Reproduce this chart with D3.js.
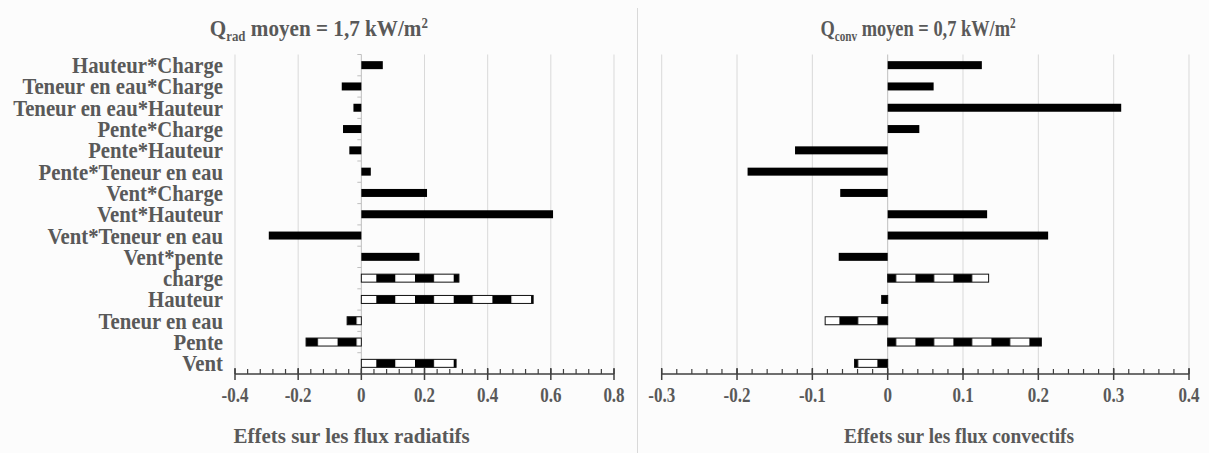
<!DOCTYPE html>
<html>
<head>
<meta charset="utf-8">
<script src="https://cdn.jsdelivr.net/npm/d3@7"></script>
<style>
  html, body { margin: 0; padding: 0; background: #fcfcfc; }
  svg { display: block; }
  text { font-family: "Liberation Serif", "Times New Roman", serif; font-weight: bold; fill: #595959; }
</style>
</head>
<body>
<svg id="chart" width="1209" height="453"></svg>
<script>
// ---------- data ----------
const categories = [
  "Hauteur*Charge", "Teneur en eau*Charge", "Teneur en eau*Hauteur", "Pente*Charge",
  "Pente*Hauteur", "Pente*Teneur en eau", "Vent*Charge", "Vent*Hauteur",
  "Vent*Teneur en eau", "Vent*pente", "charge", "Hauteur", "Teneur en eau", "Pente", "Vent"
];
const mainEffects = ["charge", "Hauteur", "Teneur en eau", "Pente", "Vent"];
const radValues = [0.068, -0.062, -0.025, -0.058, -0.038, 0.030, 0.208, 0.607, -0.293, 0.184, 0.309, 0.544, -0.045, -0.175, 0.300];
const convValues = [0.125, 0.061, 0.310, 0.042, -0.123, -0.186, -0.063, 0.132, 0.213, -0.065, 0.134, -0.008, -0.083, 0.204, -0.044];
const radTicks = [-0.4, -0.2, 0, 0.2, 0.4, 0.6, 0.8];
const radTickLabels = ["-0.4", "-0.2", "0", "0.2", "0.4", "0.6", "0.8"];
const convTicks = [-0.3, -0.2, -0.1, 0, 0.1, 0.2, 0.3, 0.4];
const convTickLabels = ["-0.3", "-0.2", "-0.1", "0", "0.1", "0.2", "0.3", "0.4"];
const radTitle = { main: "Q", sub: "rad", rest: " moyen = 1,7 kW/m", sup: "2" };
const convTitle = { main: "Q", sub: "conv", rest: " moyen = 0,7 kW/m", sup: "2" };
const radAxisTitle = "Effets sur les flux radiatifs";
const convAxisTitle = "Effets sur les flux convectifs";

// ---------- layout ----------
const svg = d3.select("#chart");
const W = 1209, H = 453;
const plotTop = 54.5, axisY = 374;

svg.append("rect").attr("width", W).attr("height", H).attr("fill", "#fcfcfc");
// divider between both images
svg.append("line").attr("x1", 637.5).attr("x2", 637.5).attr("y1", 8).attr("y2", H)
  .attr("stroke", "#d9d9d9").attr("stroke-width", 1);

const y = d3.scaleBand().domain(categories).range([plotTop, axisY])
  .paddingInner(0.625).paddingOuter(0.3125);

const defs = svg.append("defs");
function makePattern(id, period, offset, blackW) {
  const p = defs.append("pattern").attr("id", id).attr("patternUnits", "userSpaceOnUse")
    .attr("x", offset).attr("y", 0).attr("width", period).attr("height", H);
  p.append("rect").attr("width", period).attr("height", H).attr("fill", "#ffffff");
  p.append("rect").attr("width", blackW).attr("height", H).attr("fill", "#000000");
}
makePattern("patL", 38.7, 28.0, 19.0);
makePattern("patR", 38.0, 3.4, 18.8);

function stext(g, x, yy, str, size, sx, anchor) {
  return g.append("text")
    .attr("transform", `translate(${x},${yy}) scale(${sx},1)`)
    .attr("text-anchor", anchor)
    .style("font-size", size + "px")
    .text(str);
}

function panel(opts) {
  const g = svg.append("g");
  const x = d3.scaleLinear().domain(opts.domain).range(opts.range);

  // gridlines
  g.selectAll(".grid").data(opts.ticks.filter(t => t !== 0)).join("line")
    .attr("x1", d => x(d)).attr("x2", d => x(d))
    .attr("y1", plotTop).attr("y2", axisY)
    .attr("stroke", "#d9d9d9").attr("stroke-width", 1);

  // category (zero) axis
  g.append("line").attr("x1", x(0)).attr("x2", x(0)).attr("y1", plotTop).attr("y2", axisY)
    .attr("stroke", "#bfbfbf").attr("stroke-width", 1);
  if (opts.catTicks) {
    const bounds = categories.map(c => y(c) - y.step() * y.paddingInner() / 2);
    g.selectAll(".ctick").data(bounds).join("line")
      .attr("x1", x(0) - 4).attr("x2", x(0))
      .attr("y1", d => d).attr("y2", d => d)
      .attr("stroke", "#bfbfbf").attr("stroke-width", 1);
  }

  // bars
  const data = categories.map((c, i) => ({ c, v: opts.values[i], main: mainEffects.includes(c) }));
  g.selectAll(".bar").data(data).join("rect")
    .attr("x", d => x(Math.min(0, d.v)))
    .attr("width", d => Math.abs(x(d.v) - x(0)))
    .attr("y", d => y(d.c))
    .attr("height", y.bandwidth())
    .attr("fill", d => d.main ? `url(#${opts.pattern})` : "#000")
    .attr("stroke", d => d.main ? "#111" : "none")
    .attr("stroke-width", 1);

  // x axis line
  g.append("line").attr("x1", x(opts.domain[0])).attr("x2", x(opts.domain[1]))
    .attr("y1", axisY).attr("y2", axisY).attr("stroke", "#404040").attr("stroke-width", 1.5);
  // minor ticks
  const minor = d3.range(0, opts.nMinor + 1).map(i => opts.domain[0] + i * opts.minorStep);
  g.selectAll(".minor").data(minor).join("line")
    .attr("x1", d => x(d)).attr("x2", d => x(d))
    .attr("y1", axisY - 5).attr("y2", axisY)
    .attr("stroke", "#404040").attr("stroke-width", 1.2);
  // major ticks
  g.selectAll(".major").data(opts.ticks).join("line")
    .attr("x1", d => x(d)).attr("x2", d => x(d))
    .attr("y1", axisY - 6).attr("y2", axisY + 6)
    .attr("stroke", "#404040").attr("stroke-width", 1.5);
  // tick labels
  opts.ticks.forEach((t, i) => stext(g, x(t), 401.5, opts.tickLabels[i], 20, 0.85, "middle"));

  // axis title
  stext(g, opts.axisTitleX, 442.5, opts.axisTitle, 20, opts.axisTitleSx, "middle");

  // chart title
  const tt = g.append("text")
    .attr("transform", `translate(${opts.titleX},36) scale(${opts.titleSx},1)`)
    .attr("text-anchor", "middle").style("font-size", "23px");
  tt.append("tspan").text(opts.title.main);
  tt.append("tspan").attr("dy", 5).style("font-size", "14px").text(opts.title.sub);
  tt.append("tspan").attr("dy", -5).text(opts.title.rest);
  tt.append("tspan").attr("dy", -8).style("font-size", "14px").text(opts.title.sup);

  return x;
}

panel({
  domain: [-0.4, 0.8], range: [235, 614], ticks: radTicks, tickLabels: radTickLabels,
  values: radValues, pattern: "patL", nMinor: 30, minorStep: 0.04, catTicks: true,
  axisTitle: radAxisTitle, axisTitleX: 351.6, axisTitleSx: 1.05, title: radTitle, titleX: 318.8, titleSx: 0.92
});
panel({
  domain: [-0.3, 0.4], range: [661.7, 1189], ticks: convTicks, tickLabels: convTickLabels,
  values: convValues, pattern: "patR", nMinor: 35, minorStep: 0.02, catTicks: false,
  axisTitle: convAxisTitle, axisTitleX: 959, axisTitleSx: 0.97, title: convTitle, titleX: 918, titleSx: 0.8
});

// category labels
const labG = svg.append("g");
categories.forEach(c => stext(labG, 223, y(c) + y.bandwidth() / 2 + 8, c, 24, 0.865, "end"));
</script>
</body>
</html>
